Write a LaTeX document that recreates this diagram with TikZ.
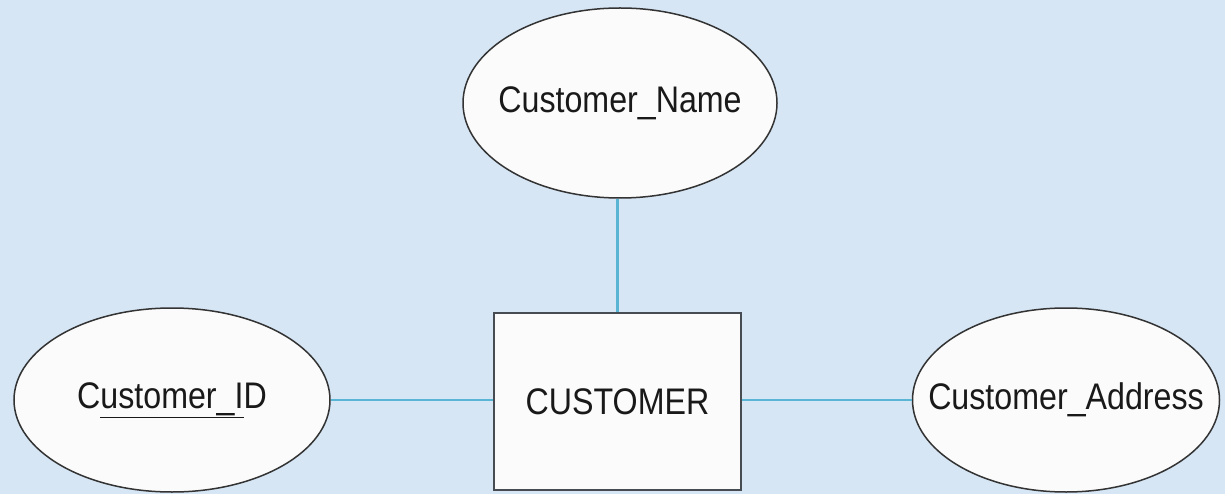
\documentclass[tikz,border=0pt]{standalone}
\usepackage{fontspec}
\setmainfont{Liberation Sans}[FakeStretch=0.87]
\usetikzlibrary{shapes.geometric}
\definecolor{bgblue}{RGB}{214,230,245}
\definecolor{linkblue}{RGB}{88,182,212}
\definecolor{boxgray}{RGB}{70,76,82}
% text of an attribute takes no width, so the ellipse keeps its own size
\newcommand{\attrtext}[1]{\makebox[0pt]{#1}}

\begin{document}
\begin{tikzpicture}[
	x=1pt, y=-1pt
	,every node/.append style={font=\fontsize{37}{40}\selectfont, text=black!90}
	,attr/.style={ellipse, draw=black!80, line width=1.5pt, fill=white!97!gray, inner sep=0pt}
	,ent/.style={rectangle, draw=boxgray, line width=2.6pt, fill=white!97!gray, minimum width=247pt, minimum height=177pt}
	,link/.style={draw=linkblue, line width=2.2pt}
]
	\fill [bgblue] (0,0) rectangle (1225,494);
	\useasboundingbox (0,0) rectangle (1225,494);

	\node [ent] (cust) at (617.5,401.5) {CUSTOMER};
	\node [attr, minimum width=314pt, minimum height=190pt] (cname) at (620,103) {\attrtext{Customer\_Name}};
	\node [attr, minimum width=316pt, minimum height=184pt] (cid) at (172,400) {\attrtext{C\underline{ustomer\_I}D}};
	\node [attr, minimum width=307pt, minimum height=184pt] (caddr) at (1066,400) {\attrtext{Customer\_Address}};

	\draw [link] (cust.north) -- (cust.north |- cname.south);
	\draw [link] (cid.east) -- (cust.west |- cid.east);
	\draw [link] (cust.east |- caddr.west) -- (caddr.west);
\end{tikzpicture}
\end{document}
